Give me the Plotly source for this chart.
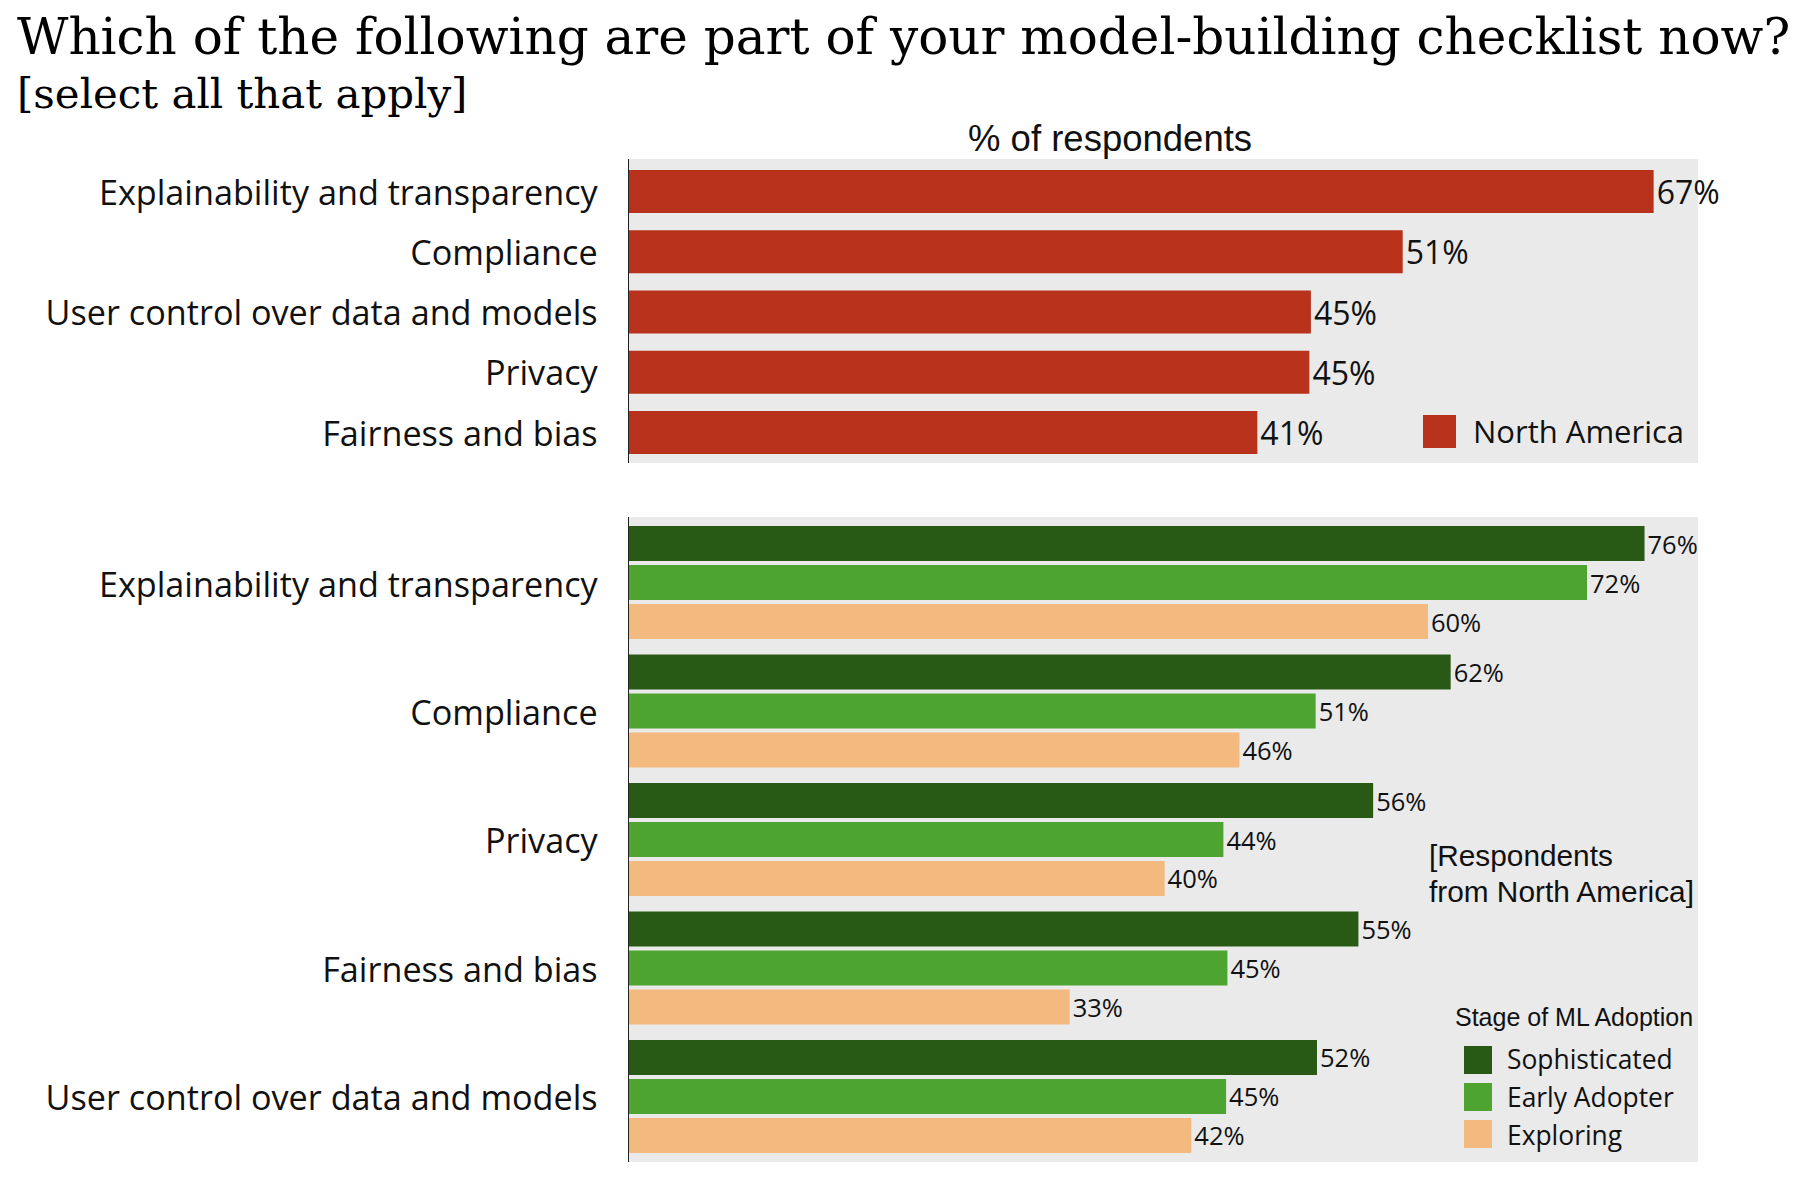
import plotly.graph_objects as go

# ---------- data ----------
top_categories = ["Explainability and transparency", "Compliance", "User control over data and models", "Privacy", "Fairness and bias"]
top_values = [67.0, 50.6, 44.6, 44.5, 41.1]
top_labels = ["67%", "51%", "45%", "45%", "41%"]

bottom_categories = ["Explainability and transparency", "Compliance", "Privacy", "Fairness and bias", "User control over data and models"]
sophisticated = [76.0, 61.5, 55.7, 54.6, 51.5]
sophisticated_labels = ["76%", "62%", "56%", "55%", "52%"]
early_adopter = [71.7, 51.4, 44.5, 44.8, 44.7]
early_adopter_labels = ["72%", "51%", "44%", "45%", "45%"]
exploring = [59.8, 45.7, 40.1, 33.0, 42.1]
exploring_labels = ["60%", "46%", "40%", "33%", "42%"]

RED, DARK, GREEN, PEACH, PANEL = "#b8321b", "#285a16", "#4ea430", "#f4b97f", "#eaeaea"
W, H = 1802, 1178
SANS, TITLE_FONT, ARIAL = "Open Sans", "DejaVu Serif", "Liberation Sans"

fig = go.Figure()
fig.add_trace(go.Bar(y=top_categories, x=top_values, text=top_labels, orientation="h", name="North America",
                     width=0.714, marker=dict(color=RED, line_width=0), textposition="outside", cliponaxis=False,
                     textfont=dict(family=SANS, size=32, color="#111"), xaxis="x", yaxis="y", showlegend=False))
for name, vals, labs, col in [("Sophisticated", sophisticated, sophisticated_labels, DARK),
                              ("Early Adopter", early_adopter, early_adopter_labels, GREEN),
                              ("Exploring", exploring, exploring_labels, PEACH)]:
    fig.add_trace(go.Bar(y=bottom_categories, x=vals, text=labs, orientation="h", name=name,
                         marker=dict(color=col, line_width=0), textposition="outside", cliponaxis=False,
                         textfont=dict(family=SANS, size=25.5, color="#111"), xaxis="x2", yaxis="y2", showlegend=False))

def px(x): return x / W
def py(y): return 1 - y / H

xdom = [px(628.5), px(1698)]
common_x = dict(domain=xdom, showticklabels=False, showgrid=False, zeroline=False, ticks="", showline=False)
common_y = dict(type="category", showgrid=False, zeroline=False, showline=True, linecolor="#222", linewidth=1,
                ticks="outside", ticklen=23, tickcolor="rgba(0,0,0,0)", tickwidth=1,
                tickfont=dict(family=SANS, size=34.2, color="#111"))

annotations = []
def note(x, y, text, size, family=SANS, xanchor="left", yanchor="middle", color="#111"):
    annotations.append(dict(x=px(x), y=py(y), xref="paper", yref="paper", text=text, showarrow=False,
                            xanchor=xanchor, yanchor=yanchor, align="left",
                            font=dict(family=family, size=size, color=color)))

note(15, 94, "[select all that apply]", 41.9, TITLE_FONT, color="#000")
note(1110, 138, "% of respondents", 36.5, ARIAL, xanchor="center")
note(1427, 855, "[Respondents", 29.8, ARIAL)
note(1427, 891, "from North America]", 29.8, ARIAL)
note(1453, 1017, "Stage of ML Adoption", 25, ARIAL)
note(1471, 431, "North America", 31)
note(1505, 1059, "Sophisticated", 26.4)
note(1505, 1097, "Early Adopter", 26.4)
note(1505, 1135, "Exploring", 26.4)

shapes = []
def swatch(x0, y0, x1, y1, col):
    shapes.append(dict(type="rect", xref="paper", yref="paper", x0=px(x0), x1=px(x1), y0=py(y0), y1=py(y1),
                       fillcolor=col, line_width=0, layer="above"))
swatch(1423, 415, 1456, 448, RED)
swatch(1464, 1046, 1492, 1074, DARK)
swatch(1464, 1083, 1492, 1111, GREEN)
swatch(1464, 1120, 1492, 1148, PEACH)

fig.update_layout(
    width=W, height=H, margin=dict(l=0, r=0, t=0, b=0), paper_bgcolor="white", plot_bgcolor=PANEL,
    barmode="group", bargap=0.0895, bargroupgap=0.1,
    title=dict(text="Which of the following are part of your model-building checklist now?",
               x=px(17), xanchor="left", xref="paper", y=py(36), yanchor="middle", yref="container",
               font=dict(family=TITLE_FONT, size=50, color="#000")),
    xaxis=dict(common_x, range=[0, 69.9], anchor="y"),
    yaxis=dict(common_y, domain=[py(463), py(159)], range=[4.506, -0.54], anchor="x",
               categoryorder="array", categoryarray=top_categories, ticklabelshift=-1),
    xaxis2=dict(common_x, range=[0, 80], anchor="y2"),
    yaxis2=dict(common_y, domain=[py(1162), py(517)], range=[4.51, -0.51], anchor="x2",
                categoryorder="array", categoryarray=bottom_categories, ticklabelshift=-2),
    annotations=annotations, shapes=shapes,
)
fig.write_html("out.html", config=dict(displayModeBar=False),
               post_script="document.body.style.margin='0';document.body.style.overflow='hidden';")
